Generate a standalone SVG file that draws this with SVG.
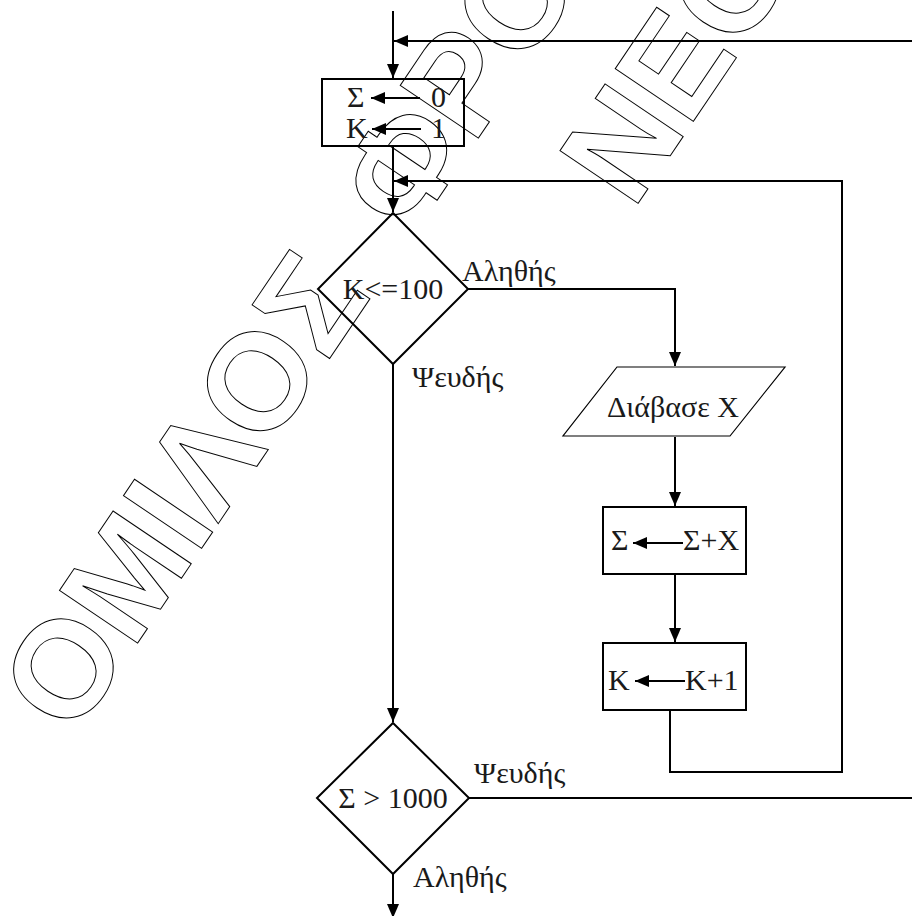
<svg xmlns="http://www.w3.org/2000/svg" width="912" height="916" viewBox="0 0 912 916">
<style>
.ln{fill:none;stroke:#000;stroke-width:2}
.thin{fill:none;stroke:#000;stroke-width:1.2}
.t{font-family:"Liberation Serif","Times New Roman",serif;font-size:30px;fill:#1a1a1a}
.wm{font-family:"Liberation Sans",Arial,sans-serif;font-weight:bold;font-size:137px;fill:none;stroke:#000;stroke-width:1}
</style>
<defs>
<marker id="ah" markerUnits="userSpaceOnUse" viewBox="0 0 14 12" refX="14" refY="6" markerWidth="14" markerHeight="12" orient="auto">
<path d="M0,0 L14,6 L0,12 Z" fill="#000"/>
</marker>
</defs>
<rect width="912" height="916" fill="#fff"/>
<g id="watermark">
<text class="wm" transform="translate(73,739) rotate(-56)" word-spacing="30">ΟΜΙΛΟΣ ΦΡΟ</text>
<text class="wm" transform="translate(633,211) rotate(-56)">ΝΕΟ</text>
</g>
<g id="connectors">
<path class="ln" d="M393,11 V78" marker-end="url(#ah)"/>
<path class="ln" d="M912,41 H394" marker-end="url(#ah)"/>
<path class="ln" d="M393,146 V212" marker-end="url(#ah)"/>
<path class="ln" d="M670,710 V772 H842 V181 H394" marker-end="url(#ah)"/>
<path class="ln" d="M468,289 H675 V366" marker-end="url(#ah)"/>
<path class="ln" d="M675,437 V506" marker-end="url(#ah)"/>
<path class="ln" d="M675,574 V642" marker-end="url(#ah)"/>
<path class="ln" d="M393,364 V722" marker-end="url(#ah)"/>
<path class="ln" d="M469,798 H912"/>
<path class="ln" d="M393,874 V918" marker-end="url(#ah)"/>
</g>
<g id="labels">
<text class="t" x="462" y="281">Αληθής</text>
<text class="t" x="412" y="387">Ψευδής</text>
<text class="t" x="474" y="783">Ψευδής</text>
<text class="t" x="413" y="887">Αληθής</text>
</g>
<g id="init">
<rect class="ln" x="322" y="79" width="142" height="67"/>
<text class="t" x="347" y="107">Σ</text>
<path class="ln" d="M420,98 H371" marker-end="url(#ah)"/>
<text class="t" x="431" y="107">0</text>
<text class="t" x="346" y="138">K</text>
<path class="ln" d="M421,129 H372" marker-end="url(#ah)"/>
<text class="t" x="431" y="138">1</text>
</g>
<g id="cond1">
<polygon class="ln" points="393,213 468,289 393,364 318,289"/>
<text class="t" x="393" y="299" text-anchor="middle">K&lt;=100</text>
</g>
<g id="read">
<polygon class="thin" points="617,367 785,367 730,436 563,436"/>
<text class="t" x="607" y="417">Διάβασε X</text>
</g>
<g id="sum">
<rect class="ln" x="603" y="507" width="143" height="67"/>
<text class="t" x="611" y="550">Σ</text>
<path class="ln" d="M683,543 H633" marker-end="url(#ah)"/>
<text class="t" x="683" y="550">Σ+X</text>
</g>
<g id="inc">
<rect class="ln" x="603" y="643" width="143" height="67"/>
<text class="t" x="608" y="690">K</text>
<path class="ln" d="M685,681 H635" marker-end="url(#ah)"/>
<text class="t" x="685" y="690">K+1</text>
</g>
<g id="cond2">
<polygon class="ln" points="393,723 469,798 393,874 317,798"/>
<text class="t" x="393" y="808" text-anchor="middle">Σ &gt; 1000</text>
</g>
</svg>
